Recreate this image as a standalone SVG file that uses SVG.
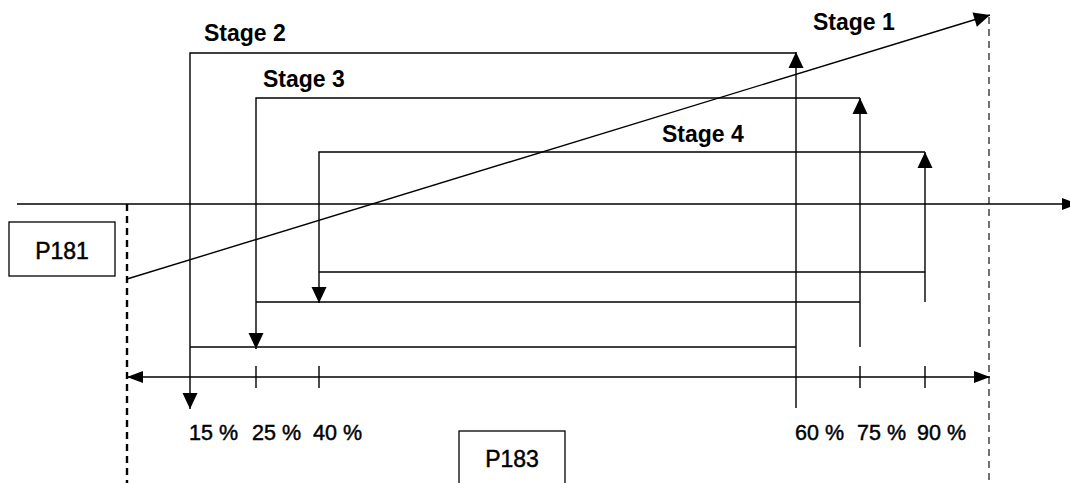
<svg xmlns="http://www.w3.org/2000/svg" width="1070" height="483" viewBox="0 0 1070 483">
<style>
.ln{fill:none;stroke:#000;stroke-width:1.4}
.dl{fill:none;stroke:#000;stroke-width:2.4;stroke-dasharray:7 5}
.dr{fill:none;stroke:#444;stroke-width:1.5;stroke-dasharray:7 5}
.box{fill:#fff;stroke:#000;stroke-width:1.3}
.stg{font-family:"Liberation Sans",Arial,sans-serif;font-weight:bold;font-size:23px;fill:#000}
.pct{font-family:"Liberation Sans",Arial,sans-serif;font-size:21.5px;fill:#000;stroke:#000;stroke-width:0.45}
.lbl{font-family:"Liberation Sans",Arial,sans-serif;font-size:23px;fill:#000;stroke:#000;stroke-width:0.45;text-anchor:middle}
</style>
<defs>
<marker id="ah" markerUnits="userSpaceOnUse" markerWidth="16" markerHeight="15" refX="16" refY="7.5" orient="auto-start-reverse" overflow="visible">
<path d="M0,0 L16,7.5 L0,15 z" fill="#000"/>
</marker>
<marker id="ax" markerUnits="userSpaceOnUse" markerWidth="16" markerHeight="12" refX="16" refY="6" orient="auto-start-reverse" overflow="visible">
<path d="M0,0 L16,6 L0,12 z" fill="#000"/>
</marker>
</defs>
<g id="guides">
<path class="dl" d="M127,204 V483"/>
<path class="dr" d="M989,17 V483"/>
</g>
<g id="connectors">
<path class="ln" d="M17,204 H1078" marker-end="url(#ax)"/>
<path class="ln" d="M127,377 H990" marker-start="url(#ax)" marker-end="url(#ax)"/>
<path class="ln" d="M256,366 V388 M319,366 V388 M860,366 V388 M925,366 V388"/>
<path class="ln" d="M127,279 L990,15" marker-end="url(#ah)"/>
<path class="ln" d="M796,408 V52" marker-end="url(#ah)"/>
<path class="ln" d="M796,53 H190 V409" marker-end="url(#ah)"/>
<path class="ln" d="M190,347 H796"/>
<path class="ln" d="M860,347 V98" marker-end="url(#ah)"/>
<path class="ln" d="M860,98 H256 V349" marker-end="url(#ah)"/>
<path class="ln" d="M256,302 H860"/>
<path class="ln" d="M925,302 V152" marker-end="url(#ah)"/>
<path class="ln" d="M925,152 H319 V303" marker-end="url(#ah)"/>
<path class="ln" d="M319,272 H925"/>
</g>
<g id="stage1"><text class="stg" x="813" y="30">Stage 1</text></g>
<g id="stage2"><text class="stg" x="204" y="41">Stage 2</text></g>
<g id="stage3"><text class="stg" x="263" y="87">Stage 3</text></g>
<g id="stage4"><text class="stg" x="662" y="142">Stage 4</text></g>
<g id="p181">
<rect class="box" x="9" y="222" width="106" height="54"/>
<text class="lbl" x="62" y="259">P181</text>
</g>
<g id="p183">
<rect class="box" x="459" y="431" width="106" height="60"/>
<text class="lbl" x="512" y="467">P183</text>
</g>
<g id="percents">
<text class="pct" x="189" y="440">15 %</text>
<text class="pct" x="252" y="440">25 %</text>
<text class="pct" x="313" y="440">40 %</text>
<text class="pct" x="795" y="440">60 %</text>
<text class="pct" x="857" y="440">75 %</text>
<text class="pct" x="917" y="440">90 %</text>
</g>
</svg>
